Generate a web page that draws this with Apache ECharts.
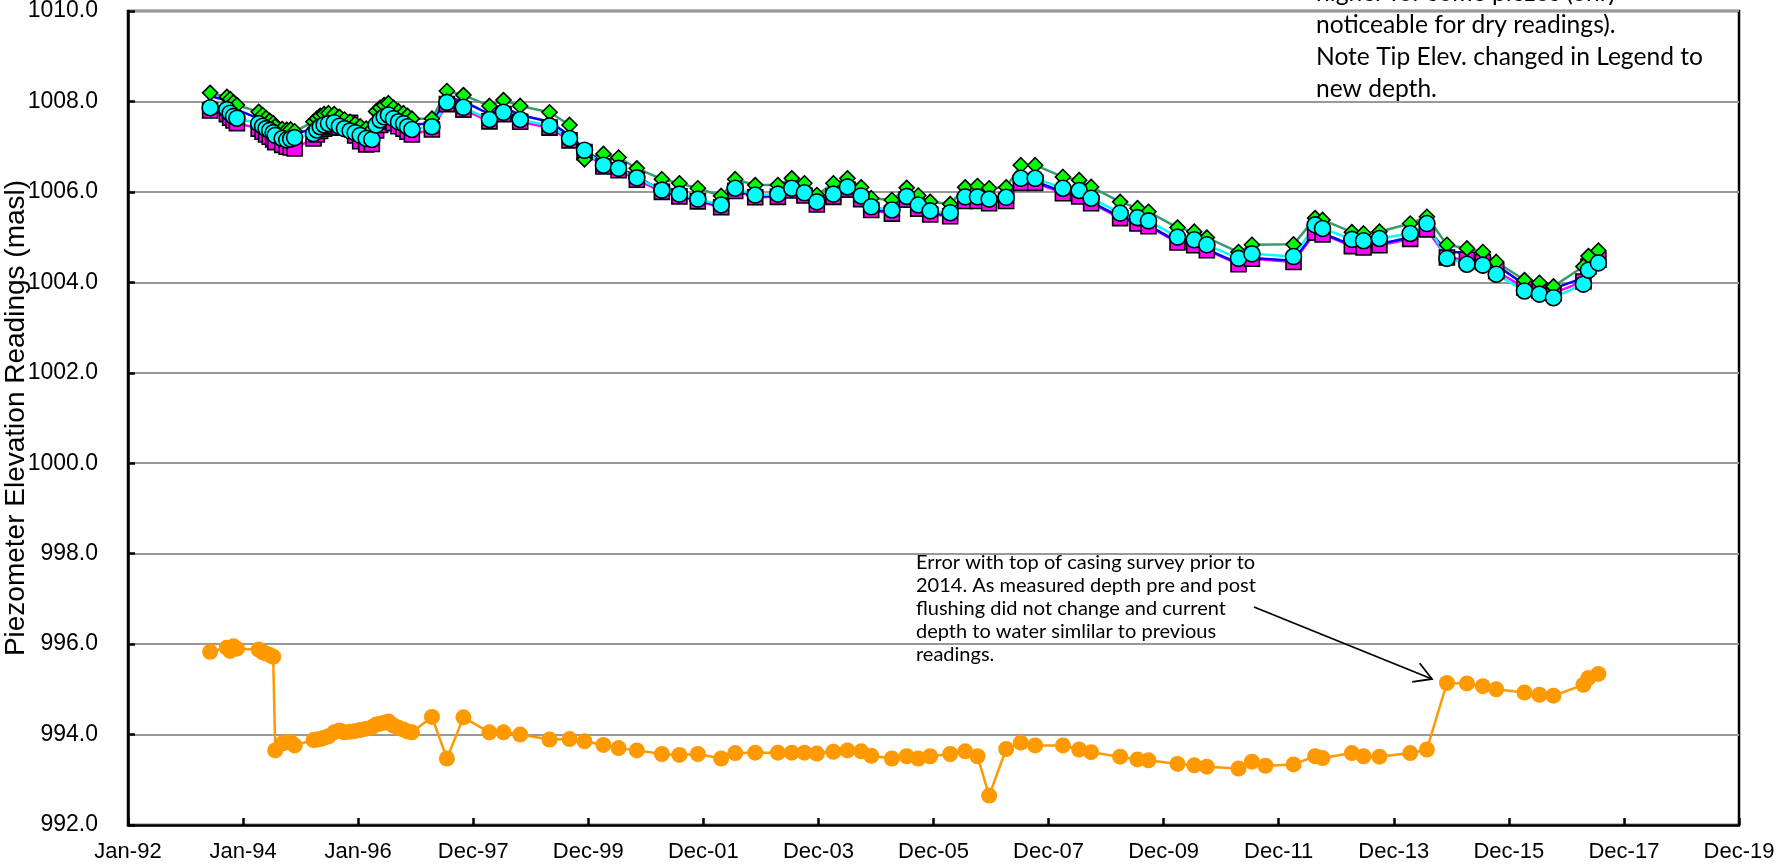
<!DOCTYPE html>
<html>
<head>
<meta charset="utf-8">
<script src="https://cdn.jsdelivr.net/npm/echarts@6/dist/echarts.min.js"></script>
<style>
  html, body { margin: 0; padding: 0; background: #fff; }
  #chart { width: 1776px; height: 867px; }
</style>
</head>
<body>
<div id="chart"></div>
<script>
// Reading dates (shared by all piezometers)
const dates = [
  '1993-06-06','1993-09-20','1993-10-11','1993-11-01','1993-11-23',
  '1994-04-10','1994-05-05','1994-05-27','1994-06-19','1994-07-11','1994-07-24','1994-09-06','1994-10-05','1994-10-30','1994-11-24',
  '1995-03-24','1995-04-14','1995-05-05','1995-05-30','1995-06-27','1995-08-02','1995-09-04','1995-10-06','1995-11-11','1995-12-13','1996-01-14','1996-02-21','1996-03-28',
  '1996-04-24','1996-05-20','1996-06-14','1996-07-11','1996-08-12','1996-09-13','1996-10-15','1996-11-09','1996-12-07',
  '1997-04-13','1997-07-17','1997-10-30','1998-04-13','1998-07-11','1998-10-25','1999-04-29','1999-09-03','1999-12-07',
  '2000-04-05','2000-07-10','2000-11-03','2001-04-11','2001-07-31','2001-11-25','2002-04-22','2002-07-20','2002-11-24',
  '2003-04-17','2003-07-14','2003-10-02','2003-12-20','2004-04-03','2004-07-01','2004-09-26','2004-11-29',
  '2005-04-09','2005-07-12','2005-09-23','2005-12-08','2006-04-14','2006-07-18','2006-10-04','2006-12-17',
  '2007-04-04','2007-07-06','2007-10-05','2008-03-29','2008-07-10','2008-09-24','2009-03-27','2009-07-15','2009-09-23',
  '2010-03-26','2010-07-10','2010-09-28','2011-04-17','2011-07-11','2011-10-05','2012-03-31','2012-08-15','2012-10-01',
  '2013-04-05','2013-06-18','2013-09-27','2014-04-10','2014-07-25','2014-11-29','2015-04-05','2015-07-15','2015-10-08',
  '2016-04-04','2016-07-08','2016-10-05','2017-04-13','2017-05-15','2017-07-17'
];

// Piezometer elevations (masl); null = no reading on that date
const piezoGreen = [
  1008.19,1008.10,1008.05,1007.98,1007.92,
  1007.77,1007.70,1007.63,1007.57,1007.52,1007.45,1007.39,1007.37,1007.38,1007.34,
  1007.55,1007.62,1007.68,1007.72,1007.74,1007.72,1007.66,1007.60,1007.55,1007.50,1007.45,1007.40,1007.38,
  1007.78,1007.86,1007.92,1007.96,1007.86,1007.78,1007.74,1007.68,1007.62,
  1007.62,1008.23,1008.14,1007.90,1008.03,1007.90,1007.76,1007.48,1006.72,
  1006.84,1006.76,1006.52,1006.28,1006.19,1006.08,1005.91,1006.28,1006.15,
  1006.15,1006.30,1006.19,1005.93,1006.19,1006.30,1006.10,1005.86,
  1005.82,1006.09,1005.92,1005.78,1005.73,1006.10,1006.13,1006.08,
  1006.10,1006.59,1006.59,1006.33,1006.26,1006.11,1005.78,1005.64,1005.56,
  1005.21,1005.12,1004.99,1004.67,1004.83,null,1004.84,1005.42,1005.38,
  1005.11,1005.08,1005.12,1005.30,1005.45,1004.83,1004.75,1004.67,1004.45,
  1004.05,1003.99,1003.91,1004.35,1004.58,1004.70
];
const piezoMagenta = [
  1007.80,1007.72,1007.64,1007.58,1007.52,
  1007.40,1007.33,1007.27,1007.22,1007.16,1007.10,1007.04,1007.00,1006.98,1006.96,
  1007.18,1007.27,1007.35,1007.40,1007.44,1007.46,1007.42,1007.45,1007.53,1007.25,1007.12,1007.05,1007.06,
  1007.36,1007.48,1007.56,1007.60,1007.52,1007.45,1007.40,1007.33,1007.27,
  1007.38,1007.94,1007.82,1007.56,1007.72,1007.55,1007.42,1007.14,1006.88,
  1006.56,1006.48,1006.27,1006.00,1005.90,1005.79,1005.66,1006.02,1005.88,
  1005.89,1006.03,1005.92,1005.72,1005.89,1006.05,1005.84,1005.60,
  1005.52,1005.83,1005.63,1005.50,1005.46,1005.80,1005.80,1005.75,
  1005.80,1006.20,1006.20,1005.97,1005.90,1005.75,1005.42,1005.30,1005.24,
  1004.88,1004.82,1004.71,1004.40,1004.52,null,1004.45,1005.10,1005.06,
  1004.80,1004.77,1004.82,1004.96,1005.17,1004.55,1004.50,1004.45,1004.25,
  1003.88,1003.82,1003.76,1004.02,1004.35,1004.50
];
const piezoBlue = [
  1008.12,1008.02,1007.95,1007.88,1007.82,
  1007.62,1007.56,1007.50,1007.45,1007.40,1007.34,1007.28,1007.25,1007.27,1007.28,
  1007.40,1007.48,1007.55,1007.60,1007.62,1007.62,1007.56,1007.50,1007.45,1007.40,1007.35,1007.28,1007.26,
  1007.62,1007.72,1007.80,1007.84,1007.75,1007.68,1007.63,1007.56,1007.50,
  1007.50,1008.10,1008.00,1007.72,1007.88,1007.70,1007.55,1007.25,1006.95,
  1006.62,1006.54,1006.33,1006.03,1005.93,1005.82,1005.68,1006.05,1005.90,
  1005.91,1006.05,1005.94,1005.74,1005.91,1006.07,1005.86,1005.62,
  1005.54,1005.85,1005.65,1005.52,1005.48,1005.82,1005.82,1005.77,
  1005.82,1006.24,1006.23,1006.00,1005.93,1005.78,1005.44,1005.33,1005.26,
  1004.90,1004.84,1004.73,1004.42,1004.54,null,1004.48,1005.13,1005.09,
  1004.82,1004.79,1004.85,1004.99,1005.20,1004.68,1004.65,1004.58,1004.38,
  1003.95,1003.90,1003.86,1004.10,1004.45,1004.62
];
const piezoCyan = [
  1007.86,1007.82,1007.74,1007.67,1007.63,
  1007.51,1007.45,1007.40,1007.36,1007.31,1007.25,1007.18,1007.15,1007.17,1007.20,
  1007.29,1007.37,1007.44,1007.48,1007.51,1007.53,1007.45,1007.40,1007.35,1007.31,1007.25,1007.18,1007.16,
  1007.48,1007.59,1007.66,1007.70,1007.62,1007.55,1007.51,1007.44,1007.38,
  1007.44,1007.98,1007.87,1007.60,1007.76,1007.60,1007.46,1007.18,1006.92,
  1006.59,1006.52,1006.31,1006.04,1005.95,1005.84,1005.71,1006.08,1005.93,
  1005.95,1006.08,1005.98,1005.78,1005.95,1006.11,1005.91,1005.67,
  1005.60,1005.90,1005.71,1005.58,1005.54,1005.89,1005.89,1005.84,
  1005.88,1006.30,1006.30,1006.08,1006.03,1005.86,1005.53,1005.43,1005.36,
  1005.00,1004.94,1004.83,1004.53,1004.63,null,1004.57,1005.27,1005.19,
  1004.95,1004.92,1004.97,1005.08,1005.30,1004.53,1004.40,1004.38,1004.18,
  1003.81,1003.74,1003.66,1003.96,1004.27,1004.43
];
const piezoOrange = [
  995.83,995.92,995.85,995.95,995.90,
  995.88,995.82,995.79,995.76,995.72,993.65,993.80,993.83,993.83,993.76,
  993.88,993.89,993.90,993.93,993.96,994.05,994.09,994.05,994.06,994.08,994.10,994.13,994.16,
  994.22,994.24,994.26,994.29,994.20,994.15,994.11,994.07,994.05,
  994.39,993.47,994.38,994.05,994.05,994.00,993.89,993.90,993.85,
  993.77,993.70,993.65,993.57,993.55,993.57,993.47,993.59,993.60,
  993.60,993.60,993.60,993.58,993.62,993.65,993.63,993.53,
  993.47,993.52,993.47,993.52,993.57,993.63,993.52,992.65,
  993.68,993.82,993.76,993.76,993.67,993.61,993.51,993.45,993.43,
  993.35,993.32,993.29,993.25,993.40,993.31,993.34,993.52,993.48,
  993.59,993.52,993.51,993.59,993.67,995.14,995.13,995.07,995.00,
  994.93,994.88,994.86,995.10,995.25,995.34
];

// Axis setup: dates measured in days from the first axis tick, ticks every 730 days
const AXIS_START = Date.UTC(1992, 0, 2);
const DAY = 86400000;
const xMin = 0, xMax = 10220, xStep = 730;
const yMin = 992, yMax = 1010, yStep = 2;
const MONTHS = ['Jan','Feb','Mar','Apr','May','Jun','Jul','Aug','Sep','Oct','Nov','Dec'];

const notesTop = [
  'higher for some piezos (only',
  'noticeable for dry readings).',
  'Note Tip Elev. changed in Legend to',
  'new depth.'
];
const notesSurvey = [
  'Error with top of casing survey prior to',
  '2014. As measured depth pre and post',
  'flushing did not change and current',
  'depth to water simlilar to previous',
  'readings.'
];

function dayOf(s) { return (Date.parse(s + 'T00:00:00Z') - AXIS_START) / DAY; }
function dateLabel(v) {
  const d = new Date(AXIS_START + v * DAY);
  return MONTHS[d.getUTCMonth()] + '-' + String(d.getUTCFullYear()).slice(2);
}
function pairs(vals) {
  return dates.map((d, i) => [dayOf(d), vals[i] == null ? '-' : vals[i]]);
}

function piezo(vals, lineColor, symbol, fill, size, border) {
  return {
    type: 'line',
    data: pairs(vals),
    connectNulls: true,
    symbol: symbol,
    symbolSize: size,
    showAllSymbol: true,
    lineStyle: { color: lineColor, width: 2.5 },
    itemStyle: { color: fill, borderColor: border ? '#000' : fill, borderWidth: border ? 1.6 : 0 },
    emphasis: { disabled: true }
  };
}

const chart = echarts.init(document.getElementById('chart'), null, { renderer: 'canvas' });

// Arrow pointing at the corrected readings
const arrowFrom = [1254, 607], arrowTo = [1432, 679];
function arrowHead(from, to, len, ang) {
  const a = Math.atan2(to[1] - from[1], to[0] - from[0]);
  return [
    [to[0] - len * Math.cos(a - ang), to[1] - len * Math.sin(a - ang)],
    to,
    [to[0] - len * Math.cos(a + ang), to[1] - len * Math.sin(a + ang)]
  ];
}

chart.setOption({
  animation: false,
  backgroundColor: '#ffffff',
  grid: {
    left: 128, right: 37, top: 11, bottom: 42,
    containLabel: false, outerBoundsMode: 'none',
    show: true, borderColor: '#000', borderWidth: 2.5, backgroundColor: 'transparent'
  },
  xAxis: {
    type: 'value', min: xMin, max: xMax, interval: xStep,
    axisLine: { lineStyle: { color: '#000', width: 2.5 } },
    axisTick: { inside: true, length: 7, lineStyle: { color: '#000', width: 2.5 } },
    axisLabel: { formatter: dateLabel, color: '#000', fontFamily: 'Liberation Sans', fontSize: 22, margin: 16, showMinLabel: true, showMaxLabel: true },
    splitLine: { show: false }
  },
  yAxis: {
    type: 'value', min: yMin, max: yMax, interval: yStep,
    name: 'Piezometer Elevation Readings (masl)',
    nameLocation: 'middle', nameGap: 98, nameRotate: 90, nameMoveOverlap: false,
    nameTextStyle: { color: '#000', fontFamily: 'Liberation Sans', fontSize: 28 },
    axisLine: { lineStyle: { color: '#000', width: 2.5 } },
    axisTick: { inside: true, length: 7, lineStyle: { color: '#000', width: 2.5 } },
    axisLabel: { formatter: v => v.toFixed(1), color: '#000', fontFamily: 'Liberation Sans', fontSize: 23, margin: 30 },
    splitLine: { lineStyle: { color: '#999', width: 2 } }
  },
  series: [
    piezo(piezoMagenta, '#ff00ff', 'rect', '#ff00ff', 15, true),
    piezo(piezoGreen, '#3a9a6c', 'diamond', '#00ff00', 15, true),
    piezo(piezoBlue, '#0000ff', 'none', '#0000ff', 0, false),
    piezo(piezoCyan, '#00ffff', 'circle', '#00ffff', 16, true),
    piezo(piezoOrange, '#ff9900', 'circle', '#ff9900', 16, false)
  ],
  graphic: [
    {
      type: 'text', left: 1316, top: -23, z: 100,
      style: { text: notesTop.join('\n'), font: '24.6px Lato', fill: '#000', lineHeight: 32 }
    },
    {
      type: 'text', left: 916, top: 551, z: 100,
      style: { text: notesSurvey.join('\n'), font: '20px Lato', fill: '#000', lineHeight: 23 }
    },
    {
      type: 'polyline', z: 100,
      shape: { points: [arrowFrom, arrowTo] },
      style: { stroke: '#000', lineWidth: 1.8, fill: null }
    },
    {
      type: 'polyline', z: 100,
      shape: { points: arrowHead(arrowFrom, arrowTo, 20, Math.PI / 6) },
      style: { stroke: '#000', lineWidth: 1.8, fill: null }
    }
  ]
});
</script>
</body>
</html>
